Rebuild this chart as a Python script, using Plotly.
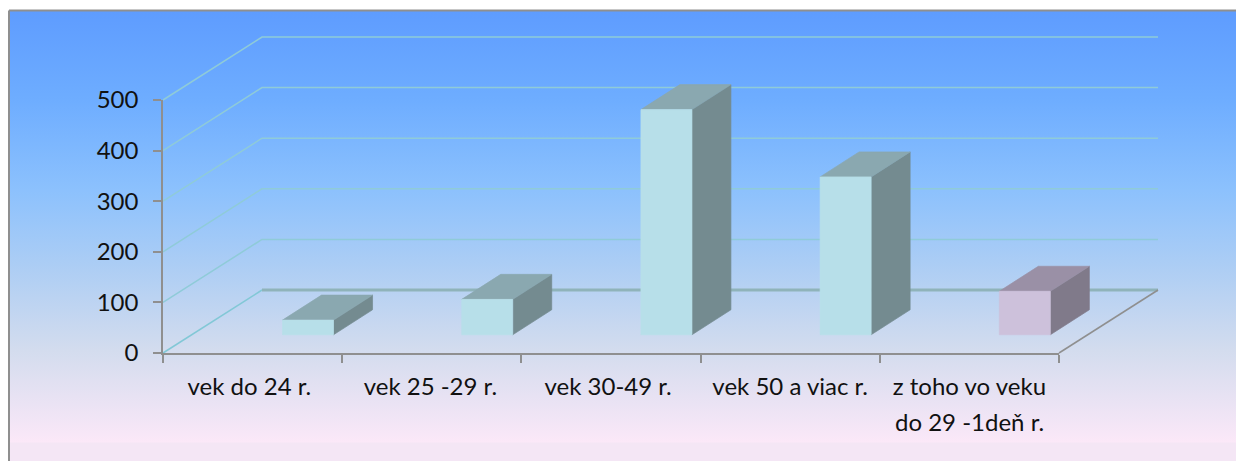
import plotly.graph_objects as go

categories = ["vek do 24 r.", "vek 25 -29 r.", "vek 30-49 r.", "vek 50 a viac r.", "z toho vo veku"]
second_line = "do 29 -1deň r."
values = [29, 70, 445, 312, 86]
y_ticks = [0, 100, 200, 300, 400, 500]
label_nudges = [-0.018, -0.008, -0.016, 0, 0]
front_colors = ["#b7dfe9", "#b7dfe9", "#b7dfe9", "#b7dfe9", "#cdc1db"]
side_colors = ["#748b90", "#748b90", "#748b90", "#748b90", "#807a8a"]
top_colors = ["#8aa8b0", "#8aa8b0", "#8aa8b0", "#8aa8b0", "#9a90a6"]

W, H = 1236, 461
L, R, T, B = 163, 1059, 100, 353
PX_X = (R - L) / 5
PX_Y = (B - T) / 500
FONT = "Lato"
FS_X, FS_Y = 24, 24
TEXT = "#111111"
def dx(px): return (px - L) / PX_X
def dy(py): return (B - py) / PX_Y

WALL_X, WALL_Y = 99 / PX_X, 63 / PX_Y       # floor depth
BAR_X0, BAR_W = 0.667, 0.2846               # bar left edge within a category, width
BAR_DX, BAR_DY = 39 / PX_X, 25 / PX_Y       # bar depth
BAR_BASE = 36

fig = go.Figure()

def poly(xs, ys, fill, line=None, width=0.7):
    fig.add_trace(go.Scatter(x=xs + xs[:1], y=ys + ys[:1], mode="lines", fill="toself", fillcolor=fill,
                             line=dict(color=line or fill, width=width), hoverinfo="skip",
                             showlegend=False))

def line(xs, ys, color, width):
    fig.add_trace(go.Scatter(x=xs, y=ys, mode="lines", line=dict(color=color, width=width),
                             hoverinfo="skip", showlegend=False))

# chart-area background with vertical gradient; it runs off the right and bottom of the page
bg_stops = [(10, "#5e9cff"), (100, "#6eadff"), (190, "#8cc1fd"), (270, "#aecef4"),
            (350, "#d3dcee"), (442, "#fbe8f8"), (443, "#f4e6f5"), (470, "#f4e6f5")]
span = bg_stops[-1][0] - bg_stops[0][0]
scale = [[(p - bg_stops[0][0]) / span, c] for p, c in bg_stops]
bx = [dx(9), dx(1250), dx(1250), dx(9), dx(9)]
by = [dy(10.5), dy(10.5), dy(470), dy(470), dy(10.5)]
fig.add_trace(go.Scatter(x=bx, y=by, mode="lines", fill="toself",
                         fillgradient=dict(type="vertical", colorscale=scale, start=dy(10), stop=dy(470)),
                         line=dict(color="#8f8f8f", width=2), hoverinfo="skip",
                         showlegend=False))

# gridlines on side wall and back wall
for v in y_ticks[::-1]:
    if v == 0:
        line([0, WALL_X], [0, WALL_Y], "#82c8d6", 1.5)
    else:
        line([0, WALL_X, 5 + WALL_X], [v, v + WALL_Y, v + WALL_Y], "#8fcbd8", 1.5)
# floor edges
line([WALL_X, 5 + WALL_X], [WALL_Y, WALL_Y], "#8fb3ba", 3)
line([5, 5 + WALL_X], [0, WALL_Y], "#8f8f8f", 1.5)

# 3-D columns
for i, v in enumerate(values):
    x0, x1 = i + BAR_X0, i + BAR_X0 + BAR_W
    b, t = BAR_BASE, BAR_BASE + v
    poly([x1, x1 + BAR_DX, x1 + BAR_DX, x1], [b, b + BAR_DY, t + BAR_DY, t], side_colors[i])
    poly([x0, x1, x1 + BAR_DX, x0 + BAR_DX], [t, t, t + BAR_DY, t + BAR_DY], top_colors[i])
    poly([x0, x1, x1, x0], [b, b, t, t], front_colors[i])

# the tick-bearing axes sit on a second, overlaid subplot
fig.add_trace(go.Scatter(x=[0], y=[0], mode="markers", marker=dict(opacity=0), xaxis="x2", yaxis="y2",
                         hoverinfo="skip", showlegend=False))

fig.add_annotation(x=4.5, y=dy(421), xref="x", yref="y", text=second_line, showarrow=False,
                   xanchor="center", yanchor="middle", font=dict(family=FONT, size=FS_X, color=TEXT))

fig.update_layout(
    width=W, height=H, autosize=False,
    margin=dict(l=0, r=0, t=0, b=0, pad=0, autoexpand=False),
    paper_bgcolor="white", plot_bgcolor="rgba(0,0,0,0)",
    showlegend=False,
    font=dict(family=FONT, size=FS_X, color=TEXT),
    xaxis=dict(domain=[0, 1], range=[dx(0), dx(W)], visible=False, fixedrange=True),
    yaxis=dict(domain=[0, 1], range=[dy(H), dy(0)], visible=False, fixedrange=True),
    xaxis2=dict(domain=[L / W, R / W], anchor="y2", range=[0, 5], tickmode="array",
                tickvals=[i + 0.5 + label_nudges[i] for i in range(5)], ticktext=categories,
                ticks="", ticklabelstandoff=11, showgrid=False, zeroline=False, showline=True,
                linecolor="#8f8f8f", linewidth=2,
                minor=dict(tickmode="array", tickvals=list(range(6)), ticks="outside", ticklen=8,
                           tickcolor="#8f8f8f", tickwidth=1.5, showgrid=False),
                tickangle=0, fixedrange=True, tickfont=dict(family=FONT, size=FS_X, color=TEXT)),
    yaxis2=dict(domain=[(H - B) / H, (H - T) / H], anchor="x2", range=[0, 500], tickmode="array",
                tickvals=y_ticks, ticks="outside", ticklen=8, ticklabelstandoff=10,
                tickcolor="#8f8f8f", tickwidth=1.5, showgrid=False, zeroline=False, showline=True,
                linecolor="#8f8f8f", linewidth=1.5, fixedrange=True,
                tickfont=dict(family=FONT, size=FS_Y, color=TEXT)),
)

fig.write_html("out.html", config={"displayModeBar": False},
               post_script="document.body.style.margin='0';document.documentElement.style.overflow='hidden';")
